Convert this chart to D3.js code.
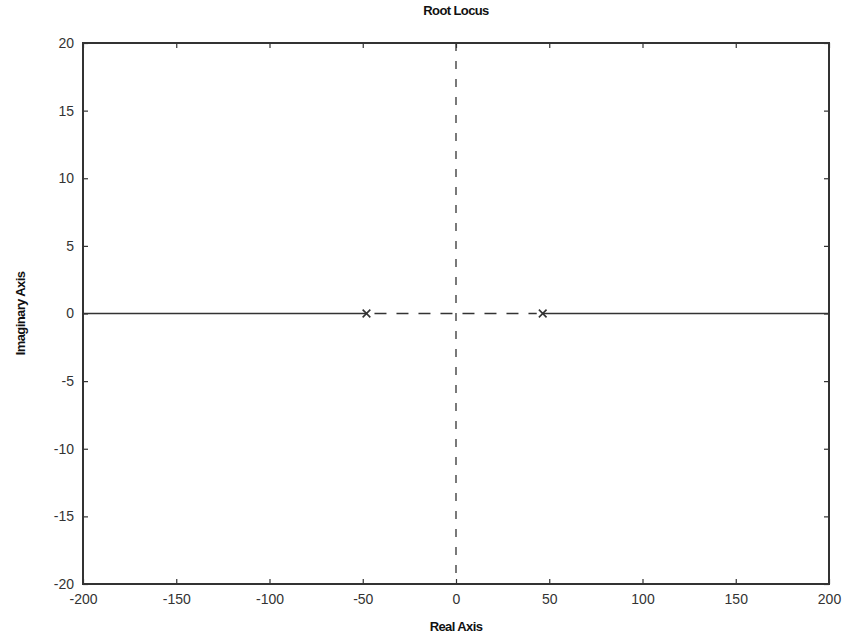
<!DOCTYPE html>
<html>
<head>
<meta charset="utf-8">
<script src="https://cdn.jsdelivr.net/npm/d3@7"></script>
<style>
  body { margin: 0; background: #fff; }
  svg { display: block; font-family: "Liberation Sans", Arial, sans-serif; }
</style>
</head>
<body>
<div id="chart"></div>
<script>
// chart data
var xTicks = [-200, -150, -100, -50, 0, 50, 100, 150, 200];
var yTicks = [-20, -15, -10, -5, 0, 5, 10, 15, 20];
var xDomain = [-200, 200];
var yDomain = [-20, 20];
var poles = [-48, 46.5];
// branches on the real axis: [from, to]
var solidBranches = [[-200, -48], [46.5, 200]];
var dashedBranch = [-48, 46.5];
// imaginary axis guide
var guideX = 0;

var margin = { top: 43, right: 20, bottom: 55, left: 83 },
  width = 849 - margin.left - margin.right,
  height = 639 - margin.top - margin.bottom;

var ink = "#333";

var svg = d3
  .select("#chart")
  .append("svg")
  .attr("width", 849)
  .attr("height", 639)
  .append("g")
  .attr("transform", "translate(" + margin.left + "," + margin.top + ")");

var x = d3.scaleLinear().domain(xDomain).range([0, width]);
var y = d3.scaleLinear().domain(yDomain).range([height, 0]);

// plain hyphen for negatives, like the original
var fmt = function (d) { return String(d); };

// axes, ticks pointing inward like matlab
function styleAxis(g) {
  g.select(".domain").remove();
  g.selectAll("line").attr("stroke", ink).attr("stroke-width", 1.2);
  g.selectAll("text").attr("fill", "#333").style("font-size", "14px");
}

svg.append("g")
  .attr("transform", "translate(0," + height + ")")
  .call(d3.axisBottom(x).tickValues(xTicks).tickSize(-5).tickPadding(10).tickFormat(fmt))
  .call(styleAxis);

svg.append("g")
  .call(d3.axisLeft(y).tickValues(yTicks).tickSize(-5).tickPadding(9).tickFormat(fmt))
  .call(styleAxis);

svg.append("g")
  .call(d3.axisTop(x).tickValues(xTicks).tickSize(-5).tickFormat(""))
  .call(styleAxis);

svg.append("g")
  .attr("transform", "translate(" + width + ",0)")
  .call(d3.axisRight(y).tickValues(yTicks).tickSize(-5).tickFormat(""))
  .call(styleAxis);

// frame
svg.append("rect")
  .attr("x", 0)
  .attr("y", 0)
  .attr("width", width)
  .attr("height", height)
  .attr("fill", "none")
  .attr("stroke", ink)
  .attr("stroke-width", 2);

// vertical dashed guide at re = 0
svg.append("line")
  .attr("x1", x(guideX))
  .attr("x2", x(guideX))
  .attr("y1", y(yDomain[1]))
  .attr("y2", y(yDomain[0]))
  .attr("stroke", ink)
  .attr("stroke-width", 1.3)
  .attr("stroke-dasharray", "8,10");

// locus branches
svg.selectAll(".branch")
  .data(solidBranches)
  .enter()
  .append("line")
  .attr("class", "branch")
  .attr("x1", function (d) { return x(d[0]); })
  .attr("x2", function (d) { return x(d[1]); })
  .attr("y1", y(0))
  .attr("y2", y(0))
  .attr("stroke", ink)
  .attr("stroke-width", 1.5);

svg.append("line")
  .attr("x1", x(dashedBranch[0]) + 8)
  .attr("x2", x(dashedBranch[1]) - 6)
  .attr("y1", y(0))
  .attr("y2", y(0))
  .attr("stroke", ink)
  .attr("stroke-width", 1.3)
  .attr("stroke-dasharray", "12,10");

// poles
var cross = d3.symbol().type(d3.symbolX).size(40);
svg.selectAll(".pole")
  .data(poles)
  .enter()
  .append("path")
  .attr("class", "pole")
  .attr("d", cross)
  .attr("transform", function (d) { return "translate(" + x(d) + "," + y(0) + ")"; })
  .attr("fill", "none")
  .attr("stroke", ink)
  .attr("stroke-width", 1.6);

// title and labels
function label(sel) {
  sel.attr("text-anchor", "middle")
    .style("font-size", "13px")
    .style("font-weight", "bold")
    .attr("fill", "#111")
    .attr("letter-spacing", "-0.6px");
}

svg.append("text")
  .attr("x", width / 2)
  .attr("y", -28)
  .call(label)
  .text("Root Locus");

svg.append("text")
  .attr("x", width / 2)
  .attr("y", height + 47)
  .call(label)
  .text("Real Axis");

svg.append("text")
  .attr("transform", "translate(" + (-58) + "," + height / 2 + ") rotate(-90)")
  .call(label)
  .text("Imaginary Axis");
</script>
</body>
</html>
